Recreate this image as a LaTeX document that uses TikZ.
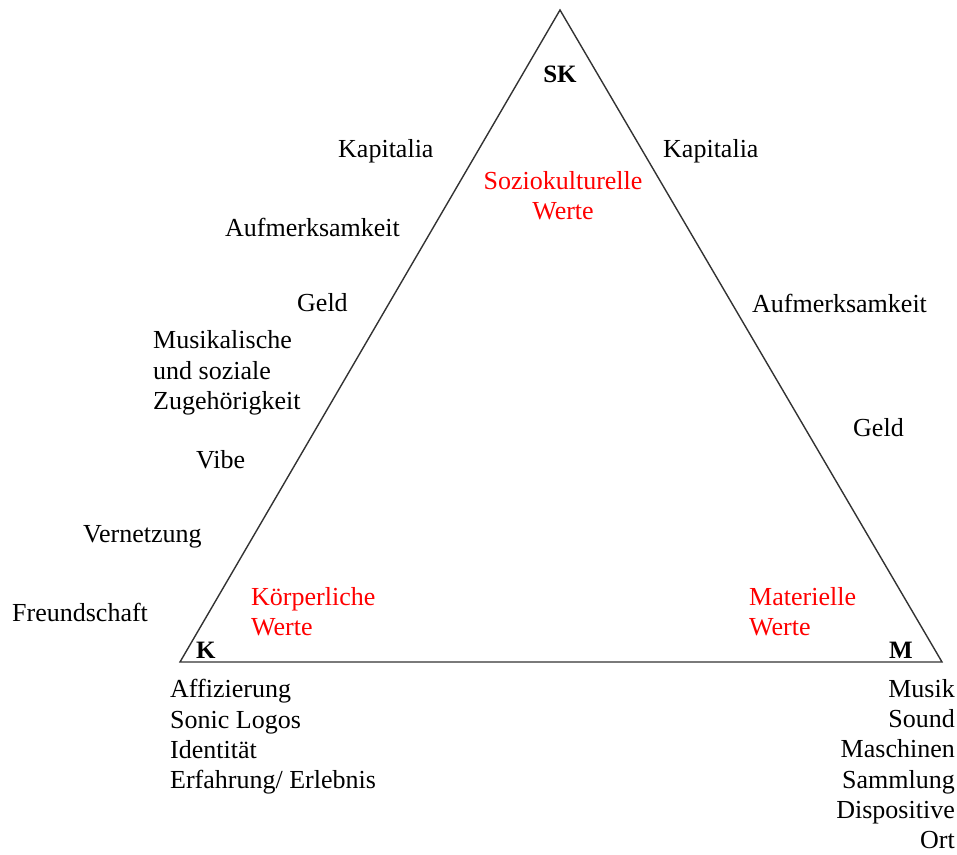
\documentclass[tikz,border=0pt]{standalone}
\usepackage{fontspec}
\setmainfont{Liberation Serif}
\usepackage{tikz}

\begin{document}
\begin{tikzpicture}[x=1pt, y=-1pt,
  lbl/.style={inner sep=0pt, font=\fontsize{26}{30.3}\selectfont},
  wert/.style={lbl, text=red, align=left},
  ecke/.style={lbl, font=\fontsize{25}{30}\selectfont\bfseries}]
\useasboundingbox (0, 0) rectangle (957, 854);
% Dreieck
\coordinate (top) at (560, 10);
\coordinate (left) at (180, 662);
\coordinate (right) at (942, 662);
\draw [line width=1.4pt, black!80] (top) -- (left) -- (right) -- cycle;
% Ecken
\node [ecke] (sk) at (560, 74) {SK};
\node [ecke, anchor=west] (k) at (196, 650) {K};
\node [ecke, anchor=east] (m) at (913, 650) {M};
% Werte
\node [wert, align=center] (sozio) at (563, 196) {Soziokulturelle\\Werte};
\node [wert, anchor=west] (koerper) at (251, 612) {Körperliche\\Werte};
\node [wert, anchor=west] (mat) at (749, 612) {Materielle\\Werte};
% linke Seite
\node [lbl, anchor=west] (kapl) at (338, 151) {Kapitalia};
\node [lbl, anchor=west] (aufl) at (225, 227) {Aufmerksamkeit};
\node [lbl, anchor=west] (geldl) at (297, 303) {Geld};
\node [lbl, anchor=west, align=left] (zug) at (153, 373) {Musikalische\\und soziale\\Zugehörigkeit};
\node [lbl, anchor=west] (vibe) at (196, 460) {Vibe};
\node [lbl, anchor=west] (vernetz) at (83, 537) {Vernetzung};
\node [lbl, anchor=west] (freund) at (12, 612) {Freundschaft};
% rechte Seite
\node [lbl, anchor=west] (kapr) at (663, 151) {Kapitalia};
\node [lbl, anchor=west] (aufr) at (752, 303) {Aufmerksamkeit};
\node [lbl, anchor=west] (geldr) at (853, 428) {Geld};
% unten
\node [lbl, anchor=west, align=left] (klist) at (170, 737) {Affizierung\\Sonic Logos\\Identität\\Erfahrung/ Erlebnis};
\node [lbl, anchor=east, align=right] (mlist) at (955, 764) {Musik\\Sound\\Maschinen\\Sammlung\\Dispositive\\Ort};
\end{tikzpicture}
\end{document}
